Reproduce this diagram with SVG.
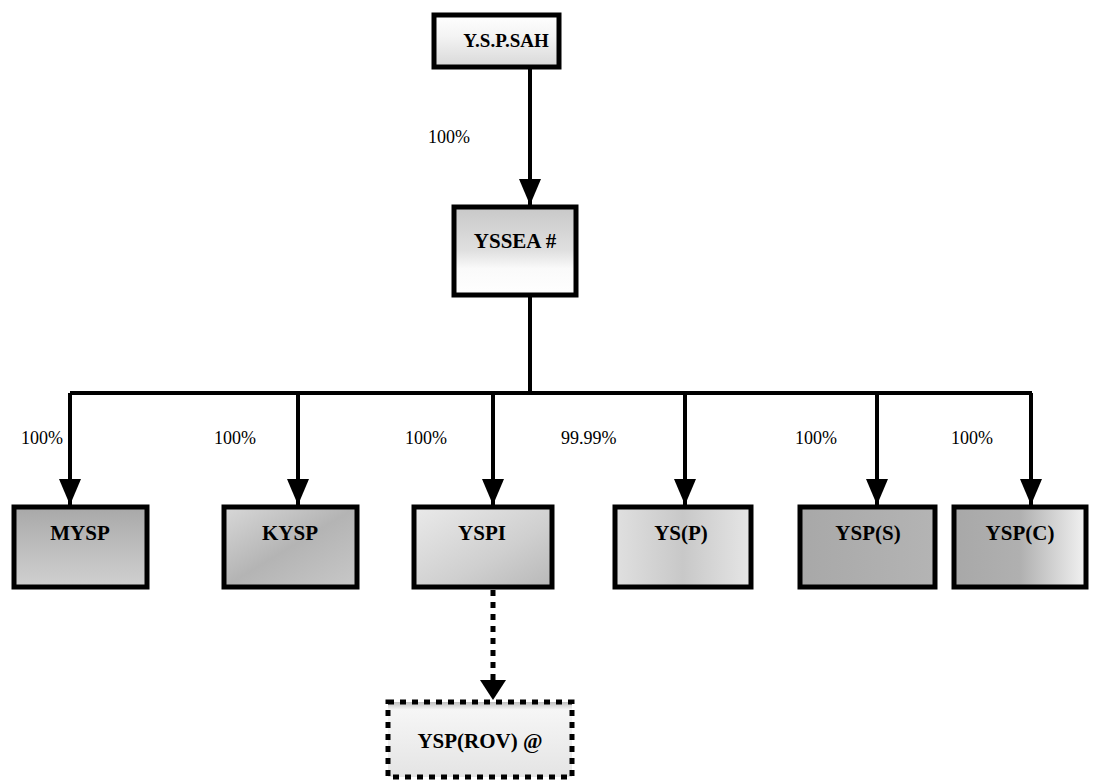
<svg xmlns="http://www.w3.org/2000/svg" width="1099" height="781" viewBox="0 0 1099 781">
<style>
.box{stroke:#000;stroke-width:5}
.lbl{font-family:'Liberation Serif','Times New Roman',Times,serif;font-weight:bold;font-size:21px;fill:#000;text-anchor:middle}
.pct{font-family:'Liberation Serif','Times New Roman',Times,serif;font-size:18px;fill:#000}
.ln{stroke:#000;stroke-width:4;fill:none}
.dash{stroke:#000;stroke-width:5;fill:none;stroke-dasharray:6,6}
</style>
<defs>
<marker id="ah" markerUnits="userSpaceOnUse" markerWidth="26" markerHeight="22" refX="26" refY="11" orient="auto">
<path d="M0,0 L26,11 L0,22 Z" fill="#000"/>
</marker>
<linearGradient id="gTop" x1="0" y1="0" x2="0" y2="1">
<stop offset="0" stop-color="#ffffff"/><stop offset="0.4" stop-color="#f4f4f4"/><stop offset="1" stop-color="#d8d8d8"/>
</linearGradient>
<linearGradient id="gMid" x1="0" y1="0" x2="0" y2="1">
<stop offset="0" stop-color="#c8c8c8"/><stop offset="0.5" stop-color="#e0e0e0"/><stop offset="0.7" stop-color="#fafafa"/><stop offset="1" stop-color="#ffffff"/>
</linearGradient>
<linearGradient id="gDark" x1="0" y1="0" x2="0" y2="1">
<stop offset="0" stop-color="#a8a8a8"/><stop offset="0.5" stop-color="#bdbdbd"/><stop offset="1" stop-color="#d0d0d0"/>
</linearGradient>
<linearGradient id="gKysp" x1="0" y1="0" x2="1" y2="1">
<stop offset="0" stop-color="#d8d8d8"/><stop offset="0.5" stop-color="#b4b4b4"/><stop offset="1" stop-color="#c8c8c8"/>
</linearGradient>
<linearGradient id="gLight" x1="0" y1="0" x2="1" y2="1">
<stop offset="0" stop-color="#eaeaea"/><stop offset="0.6" stop-color="#cfcfcf"/><stop offset="1" stop-color="#b8b8b8"/>
</linearGradient>
<linearGradient id="gYsp" x1="0" y1="0" x2="1" y2="0">
<stop offset="0" stop-color="#e0e0e0"/><stop offset="0.5" stop-color="#c8c8c8"/><stop offset="1" stop-color="#e6e6e6"/>
</linearGradient>
<linearGradient id="gS" x1="0" y1="0" x2="1" y2="0">
<stop offset="0" stop-color="#a8a8a8"/><stop offset="1" stop-color="#b4b4b4"/>
</linearGradient>
<linearGradient id="gC" x1="0" y1="0" x2="1" y2="0">
<stop offset="0" stop-color="#a8a8a8"/><stop offset="0.5" stop-color="#b0b0b0"/><stop offset="1" stop-color="#f2f2f2"/>
</linearGradient>
<linearGradient id="gRov" x1="0" y1="0" x2="0" y2="1">
<stop offset="0" stop-color="#c0c0c0"/><stop offset="0.1" stop-color="#f6f6f6"/><stop offset="1" stop-color="#e4e4e4"/>
</linearGradient>
</defs>

<g id="connectors">
<line class="ln" x1="530" y1="67" x2="530" y2="205" marker-end="url(#ah)"/>
<line class="ln" x1="530" y1="297" x2="530" y2="393"/>
<line class="ln" x1="70" y1="393" x2="1032" y2="393"/>
<line class="ln" x1="70" y1="393" x2="70" y2="505" marker-end="url(#ah)"/>
<line class="ln" x1="298" y1="393" x2="298" y2="505" marker-end="url(#ah)"/>
<line class="ln" x1="493" y1="393" x2="493" y2="505" marker-end="url(#ah)"/>
<line class="ln" x1="685" y1="393" x2="685" y2="505" marker-end="url(#ah)"/>
<line class="ln" x1="877" y1="393" x2="877" y2="505" marker-end="url(#ah)"/>
<line class="ln" x1="1031" y1="393" x2="1031" y2="505" marker-end="url(#ah)"/>
<line class="dash" x1="493" y1="590" x2="493" y2="681"/>
<path d="M480,680 L506,680 L493,700 Z" fill="#000"/>
<text class="pct" x="428" y="143" font-size="15">100%</text>
<text class="pct" x="21" y="444">100%</text>
<text class="pct" x="214" y="444">100%</text>
<text class="pct" x="405" y="444">100%</text>
<text class="pct" x="561" y="444">99.99%</text>
<text class="pct" x="795" y="444">100%</text>
<text class="pct" x="951" y="444">100%</text>
</g>

<g id="node-ysp-sah">
<rect class="box" x="434" y="15" width="125" height="52" fill="url(#gTop)"/>
<text class="lbl" x="506" y="47" style="font-size:19px">Y.S.P.SAH</text>
</g>
<g id="node-yssea">
<rect class="box" x="454" y="207" width="122" height="88" fill="url(#gMid)"/>
<text class="lbl" x="515" y="248">YSSEA #</text>
</g>
<g id="node-mysp">
<rect class="box" x="14" y="507" width="133" height="80" fill="url(#gDark)"/>
<text class="lbl" x="80" y="540">MYSP</text>
</g>
<g id="node-kysp">
<rect class="box" x="224" y="507" width="133" height="80" fill="url(#gKysp)"/>
<text class="lbl" x="290" y="540">KYSP</text>
</g>
<g id="node-yspi">
<rect class="box" x="414" y="507" width="138" height="80" fill="url(#gLight)"/>
<text class="lbl" x="482" y="540">YSPI</text>
</g>
<g id="node-ysp-p">
<rect class="box" x="615" y="507" width="136" height="80" fill="url(#gYsp)"/>
<text class="lbl" x="681" y="540">YS(P)</text>
</g>
<g id="node-ysp-s">
<rect class="box" x="800" y="507" width="135" height="80" fill="url(#gS)"/>
<text class="lbl" x="868" y="540">YSP(S)</text>
</g>
<g id="node-ysp-c">
<rect class="box" x="954" y="507" width="132" height="80" fill="url(#gC)"/>
<text class="lbl" x="1020" y="540">YSP(C)</text>
</g>
<g id="node-ysp-rov">
<rect x="388" y="702" width="184" height="75" fill="url(#gRov)" stroke="#000" stroke-width="5" stroke-dasharray="6,6"/>
<text class="lbl" x="480" y="748">YSP(ROV) @</text>
</g>
</svg>
